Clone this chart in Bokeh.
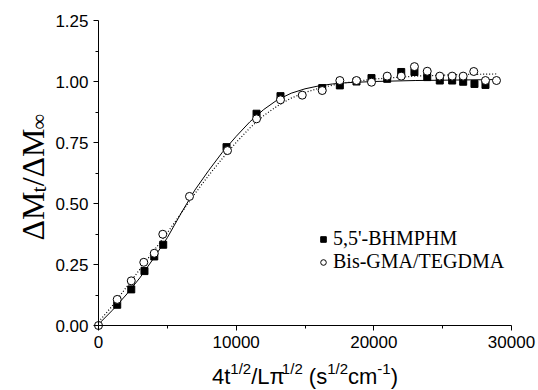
import numpy as np
from bokeh.plotting import figure
from bokeh.models import Range1d, FixedTicker, Label, Legend, LegendItem, LinearAxis, CustomJSTickFormatter
from bokeh.embed import file_html
from bokeh.resources import INLINE

# ---- data ----
bhm_x = [1360, 2380, 3340, 4050, 4700, 9300, 11480, 13220, 16250, 17530, 18740,
         19830, 20970, 21990, 22950, 23880, 24790, 25690, 26490, 27310, 28110]
bhm_y = [0.085, 0.148, 0.223, 0.283, 0.331, 0.731, 0.868, 0.940, 0.973, 0.984, 1.000,
         1.014, 1.011, 1.039, 1.039, 1.018, 1.004, 1.004, 0.999, 0.990, 0.986]

bis_x = [0, 1360, 2380, 3290, 4050, 4670, 6610, 9370, 11480, 13220, 14800, 16250,
         17530, 18740, 19830, 20970, 21990, 22950, 23880, 24790, 25690, 26490,
         27260, 28110, 28910]
bis_y = [0.0, 0.107, 0.183, 0.259, 0.296, 0.374, 0.529, 0.717, 0.847, 0.925, 0.944, 0.963,
         1.004, 1.004, 0.997, 1.022, 1.022, 1.061, 1.042, 1.022, 1.022, 1.022,
         1.041, 1.004, 1.004]

fit_x = [0, 1000, 2000, 3000, 4000, 5000, 6000, 7000, 8000, 9000, 10000, 11000,
         12000, 13000, 14000, 15000, 16000, 17000, 18000, 20000, 23000, 26000, 29000]
fit_bhm = [0.005, 0.062, 0.125, 0.195, 0.275, 0.360, 0.460, 0.555, 0.635, 0.710, 0.775,
           0.835, 0.885, 0.925, 0.952, 0.970, 0.982, 0.990, 0.995, 1.000, 1.004, 1.006, 1.008]
fit_bis = [0.015, 0.080, 0.155, 0.230, 0.305, 0.380, 0.460, 0.540, 0.615, 0.685, 0.750,
           0.810, 0.860, 0.900, 0.932, 0.955, 0.972, 0.985, 0.995, 1.010, 1.022, 1.028, 1.031]

x_ticks = [0, 10000, 20000, 30000]
x_minor = [5000, 15000, 25000]
y_ticks = [0.0, 0.25, 0.5, 0.75, 1.0, 1.25]
y_minor = [0.125, 0.375, 0.625, 0.875, 1.125]

labels = ["5,5'-BHMPHM", "Bis-GMA/TEGDMA"]

# ---- layout: the frame fills the canvas; axes are placed at fixed data locations ----
W, H = 538, 390
AX_L, AX_R, AX_T, AX_B = 98, 511, 20, 325      # pixel box of the plotted area
X0, X1, Y0, Y1 = 0, 30000, 0, 1.25
sx = (X1 - X0) / (AX_R - AX_L)
sy = (Y1 - Y0) / (AX_B - AX_T)
xr = Range1d(X0 - AX_L * sx, X1 + (W - AX_R) * sx)
yr = Range1d(Y0 - (H - AX_B) * sy, Y1 + AX_T * sy)


def dx(px):
    return X0 + (px - AX_L) * sx


def dy(py):
    return Y0 + (AX_B - py) * sy


p = figure(width=W, height=H, output_backend="svg", toolbar_location=None,
           x_range=xr, y_range=yr, x_axis_location=None, y_axis_location=None,
           min_border=0)
p.outline_line_color = None
p.xgrid.visible = False
p.ygrid.visible = False
p.background_fill_color = "white"
p.border_fill_color = "white"

xaxis = LinearAxis(fixed_location=Y0, bounds=(X0, X1),
                   ticker=FixedTicker(ticks=x_ticks, minor_ticks=x_minor),
                   formatter=CustomJSTickFormatter(code="return tick.toFixed(0);"))
yaxis = LinearAxis(fixed_location=X0, bounds=(Y0, Y1),
                   ticker=FixedTicker(ticks=y_ticks, minor_ticks=y_minor),
                   formatter=CustomJSTickFormatter(code="return tick.toFixed(2);"))
for ax in (xaxis, yaxis):
    ax.axis_line_color = "black"
    ax.axis_line_width = 1
    ax.major_tick_in = 0
    ax.major_tick_out = 5
    ax.minor_tick_in = 0
    ax.minor_tick_out = 3
    ax.major_tick_line_color = "black"
    ax.minor_tick_line_color = "black"
    ax.major_label_text_font = "Liberation Sans"
    ax.major_label_text_font_size = "17px"
    ax.major_label_text_color = "black"
    ax.major_label_standoff = 5
p.add_layout(xaxis, "below")
p.add_layout(yaxis, "left")

# fitted curves
p.line(fit_x, fit_bhm, line_color="black", line_width=1)
p.line(fit_x, fit_bis, line_color="black", line_width=1.2, line_dash="1 2")

sq = p.scatter(bhm_x, bhm_y, marker="square", size=7, fill_color="black", line_color="black")
ci = p.scatter(bis_x, bis_y, marker="circle", size=8, fill_color="white", line_color="black",
               line_width=1)

legend = Legend(items=[LegendItem(label=labels[0], renderers=[sq]),
                       LegendItem(label=labels[1], renderers=[ci])],
                location=(316, H - 273), border_line_color=None, background_fill_alpha=0,
                padding=0, margin=0, spacing=-3, glyph_width=14, glyph_height=20,
                label_height=20, label_standoff=3, label_text_font="Liberation Serif",
                label_text_font_size="20px", label_text_color="black")
p.add_layout(legend)

sans_w = {'4': .556, 't': .278, '1': .556, '/': .278, '2': .556, 'L': .556, 'π': .56,
          ' ': .278, '(': .333, 's': .5, 'c': .5, 'm': .833, '-': .333, ')': .333}
serif_w = {'Δ': .612, 'M': .889, 't': .278, '/': .278, '∞': .713}


def width(s, size, table):
    return sum(table[c] for c in s) * size


# x-axis title: 4t^{1/2}/Lπ^{1/2} (s^{1/2}cm^{-1})
xparts = [("4t", 0), ("1/2", 1), ("/L", 0), ("π", 0), ("1/2", 1), (" ", 0), ("(s", 0),
          ("1/2", 1), ("cm", 0), ("-1", 1), (")", 0)]
MAIN, SUP = 22, 15
total = sum(width(s, SUP if sup else MAIN, sans_w) for s, sup in xparts)
x_cur = (AX_L + AX_R) / 2 - total / 2
base = 376
for s, sup in xparts:
    size = SUP if sup else MAIN
    if s.strip():
        yb = base - 8 if sup else base
        p.add_layout(Label(x=dx(x_cur), y=dy(yb), text=s, text_font="Liberation Sans",
                           text_font_size=f"{size}px", text_align="left",
                           text_baseline="alphabetic", text_color="black"))
    x_cur += width(s, size, sans_w)

# y-axis title: ΔM_t/ΔM_∞ (rotated)
yparts = [("ΔM", 0), ("t", 1), ("/ΔM", 0), ("∞", 1)]
YM, YS = 32, 22
y_cur = 240
ybase = 32
for s, sub in yparts:
    size = YS if sub else YM
    xb = ybase + 6 if sub else ybase
    p.add_layout(Label(x=dx(xb), y=dy(y_cur), text=s, text_font="Liberation Serif",
                       text_font_size=f"{size}px", text_align="left",
                       text_baseline="alphabetic", angle=np.pi / 2, angle_units="rad",
                       text_color="black"))
    y_cur -= width(s, size, serif_w)

open("out.html", "w").write(file_html(p, INLINE))
